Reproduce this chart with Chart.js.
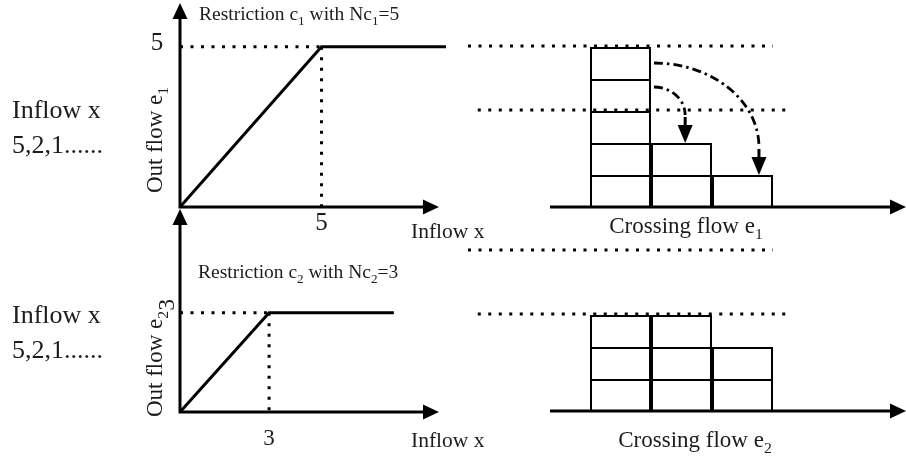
<!DOCTYPE html>
<html>
<head>
<meta charset="utf-8">
<title>Restriction and crossing flow</title>
<script src="https://cdn.jsdelivr.net/npm/chart.js@4.4.1/dist/chart.umd.min.js"></script>
<style>
  html, body { margin: 0; padding: 0; background: #fff; }
  #stage { position: relative; width: 906px; height: 459px; overflow: hidden; }
  #stage canvas { position: absolute; left: 0; top: 0; }
</style>
</head>
<body>
<div id="stage">
  <canvas id="resp1" width="906" height="459"></canvas>
  <canvas id="resp2" width="906" height="459"></canvas>
  <canvas id="cross1" width="906" height="459"></canvas>
  <canvas id="cross2" width="906" height="459"></canvas>
</div>
<script>
// values
const capacity = [5, 3];              // Nc1, Nc2
const inflowSequence = [5, 2, 1];     // arriving inflow x
const steps = ['t1', 't2', 't3'];
const responseX1 = [0, 5, 9.4];
const responseY1 = [0, 5, 5];
const responseX2 = [0, 3, 7.2];
const responseY2 = [0, 3, 3];
const crossing1 = [5, 2, 1];
const crossing2 = [3, 3, 2];
// boxes pushed on in e1: start [column edge, height] -> end [column position, top]
const moveFrom = [[0.5, 4.5], [0.5, 3.75]];
const moveTo = [[2.27, 1], [1.06, 2]];

const FONT = '"Liberation Serif", "Times New Roman", serif';
const INK = '#000';
const TEXT = '#1c1c1c';

// "a_1_b" -> text with subscripts between underscores
function label(ctx, str, x, y, size, align, angle) {
    const parts = str.split('_').map((t, i) => ({ t, sub: i % 2 === 1 }));
    ctx.save();
    ctx.translate(x, y);
    if (angle) ctx.rotate(angle);
    ctx.fillStyle = TEXT;
    ctx.textAlign = 'left';
    ctx.textBaseline = 'alphabetic';
    const widths = parts.map(p => {
        ctx.font = (p.sub ? size * 0.68 : size) + 'px ' + FONT;
        return ctx.measureText(p.t).width;
    });
    const total = widths.reduce((a, b) => a + b, 0);
    let cx = align === 'center' ? -total / 2 : 0;
    parts.forEach((p, i) => {
        ctx.font = (p.sub ? size * 0.68 : size) + 'px ' + FONT;
        ctx.fillText(p.t, cx, p.sub ? size * 0.24 : 0);
        cx += widths[i];
    });
    ctx.restore();
}

function arrowHead(ctx, x, y, dx, dy, len = 16, half = 7.5) {
    const bx = x - dx * len, by = y - dy * len;
    ctx.beginPath();
    ctx.moveTo(x, y);
    ctx.lineTo(bx - dy * half, by + dx * half);
    ctx.lineTo(bx + dy * half, by - dx * half);
    ctx.closePath();
    ctx.fill();
}

function responseDecor(cap, lay) {
    return {
        id: 'responseDecor',
        afterDatasetsDraw(chart) {
            const { ctx, scales: { x, y } } = chart;
            const ox = x.getPixelForValue(0), oy = y.getPixelForValue(0);
            const tx = x.getPixelForValue(lay.xTip), ty = y.getPixelForValue(lay.yTip);
            ctx.save();
            ctx.strokeStyle = INK;
            ctx.fillStyle = INK;
            ctx.lineWidth = 3;
            ctx.beginPath();
            ctx.moveTo(ox, oy + 1.5);
            ctx.lineTo(ox, ty + 12);
            ctx.moveTo(ox - 1.5, oy);
            ctx.lineTo(tx - 12, oy);
            ctx.stroke();
            arrowHead(ctx, ox, ty, 0, -1);
            arrowHead(ctx, tx, oy, 1, 0);
            ctx.restore();

            const cx = x.getPixelForValue(cap), cy = y.getPixelForValue(cap);
            label(ctx, lay.title, lay.titleX, lay.titleY, 19.5, 'left');
            label(ctx, String(cap), ox + lay.yTick[0], cy + lay.yTick[1], lay.yTickSize, 'center', lay.yTickAngle);
            label(ctx, String(cap), cx, oy + lay.xTickDy, lay.xTickSize, 'center');
            label(ctx, 'Inflow x', 411, oy + lay.xTitleDy, 21.5, 'left');
            label(ctx, lay.yTitle, ox - 18, lay.yTitleY, 23, 'center', -Math.PI / 2);
            label(ctx, 'Inflow x', 12, lay.sideY, 26, 'left');
            label(ctx, inflowSequence.join(',') + '......', 12, lay.sideY + 35, 26, 'left');
        }
    };
}

function responseChart(id, xs, ys, cap, pad, lay) {
    const pts = xs.map((v, i) => ({ x: v, y: ys[i] }));
    const dots = { borderColor: INK, borderWidth: 3, borderDash: [3, 7.5], pointRadius: 0, showLine: true };
    return new Chart(document.getElementById(id), {
        type: 'scatter',
        data: {
            datasets: [
                { data: pts, borderColor: INK, borderWidth: 3, pointRadius: 0, showLine: true },
                { data: [{ x: 0, y: cap }, { x: cap, y: cap }], ...dots },
                { data: [{ x: cap, y: cap }, { x: cap, y: 0 }], ...dots }
            ]
        },
        options: {
            responsive: false,
            animation: false,
            devicePixelRatio: 1,
            layout: { padding: pad },
            plugins: { legend: { display: false }, tooltip: { enabled: false } },
            scales: {
                x: { type: 'linear', min: 0, max: 10, display: false },
                y: { type: 'linear', min: 0, max: lay.yMax, display: false }
            }
        },
        plugins: [responseDecor(cap, lay)]
    });
}

function crossingDecor(lay, moves) {
    return {
        id: 'crossingDecor',
        afterDatasetsDraw(chart) {
            const { ctx, scales: { x, y } } = chart;
            const oy = y.getPixelForValue(0);
            ctx.save();
            ctx.strokeStyle = INK;
            ctx.fillStyle = INK;

            // capacity levels
            ctx.lineWidth = 3;
            ctx.setLineDash([3, 7.5]);
            capacity.forEach((c, i) => {
                const py = y.getPixelForValue(c) - 1;
                ctx.beginPath();
                ctx.moveTo(x.getPixelForValue(lay.levels[i][0]), py);
                ctx.lineTo(x.getPixelForValue(lay.levels[i][1]), py);
                ctx.stroke();
            });
            ctx.setLineDash([]);

            // base axis
            const ax0 = x.getPixelForValue(lay.axis[0]), ax1 = x.getPixelForValue(lay.axis[1]);
            ctx.lineWidth = 3;
            ctx.beginPath();
            ctx.moveTo(ax0, oy);
            ctx.lineTo(ax1 - 12, oy);
            ctx.stroke();
            arrowHead(ctx, ax1, oy, 1, 0);

            // moved boxes
            moves.forEach(([from, to]) => {
                const sx = x.getPixelForValue(from[0]) + 3, sy = y.getPixelForValue(from[1]);
                const tipX = x.getPixelForValue(to[0]), tipY = y.getPixelForValue(to[1]);
                const ey = tipY - 28;
                ctx.lineWidth = 2.8;
                ctx.setLineDash([9, 4, 2.5, 4]);
                ctx.beginPath();
                ctx.ellipse(sx, ey, tipX - sx, ey - sy, 0, -Math.PI / 2, 0);
                ctx.stroke();
                ctx.setLineDash([]);
                ctx.lineWidth = 3;
                ctx.beginPath();
                ctx.moveTo(tipX, tipY - 26);
                ctx.lineTo(tipX, tipY - 14);
                ctx.stroke();
                arrowHead(ctx, tipX, tipY, 0, 1, 18, 7.5);
            });
            ctx.restore();

            label(ctx, lay.title, lay.titleX, oy + lay.titleDy, 23, 'center');
        }
    };
}

function crossingChart(id, counts, pad, lay, moves) {
    const depth = Math.max(...counts);
    const datasets = [];
    for (let k = 0; k < depth; k++) {
        datasets.push({
            data: counts.map(c => (c > k ? 1 : null)),
            backgroundColor: '#fff',
            borderColor: INK,
            borderWidth: 2,
            borderSkipped: 'bottom',
            inflateAmount: 0,
            barPercentage: 1,
            categoryPercentage: 1
        });
    }
    return new Chart(document.getElementById(id), {
        type: 'bar',
        data: { labels: steps, datasets },
        options: {
            responsive: false,
            animation: false,
            devicePixelRatio: 1,
            layout: { padding: pad },
            plugins: { legend: { display: false }, tooltip: { enabled: false } },
            scales: {
                x: { stacked: true, display: false },
                y: { stacked: true, min: 0, max: 6, display: false }
            }
        },
        plugins: [crossingDecor(lay, moves)]
    });
}

responseChart('resp1', responseX1, responseY1, capacity[0],
    { left: 180, right: 443, top: 2, bottom: 252 },
    {
        yMax: 6.4, xTip: 9.15, yTip: 6.37,
        title: 'Restriction c_1_ with Nc_1_=' + capacity[0], titleX: 199, titleY: 20,
        yTick: [-23, 3.5], yTickSize: 25, yTickAngle: 0,
        xTickDy: 23, xTickSize: 25, xTitleDy: 31,
        yTitle: 'Out flow e_1', yTitleY: 140, sideY: 118
    });

responseChart('resp2', responseX2, responseY2, capacity[1],
    { left: 180, right: 429, top: 207, bottom: 47 },
    {
        yMax: 6.2, xTip: 8.72, yTip: 6.14,
        title: 'Restriction c_2_ with Nc_2_=' + capacity[1], titleX: 198, titleY: 278,
        yTick: [-6, -8], yTickSize: 23, yTickAngle: -Math.PI / 2,
        xTickDy: 33, xTickSize: 23, xTitleDy: 35,
        yTitle: 'Out flow e_2', yTitleY: 364, sideY: 323
    });

const crossLayout = { levels: [[-2.5, 2.5], [-2.34, 2.81]], axis: [-1.156, 4.68] };

crossingChart('cross1', crossing1,
    { left: 590, right: 133, top: 15, bottom: 252 },
    { ...crossLayout, title: 'Crossing flow e_1', titleX: 686, titleDy: 26 },
    moveFrom.map((f, i) => [f, moveTo[i]]));

crossingChart('cross2', crossing2,
    { left: 590, right: 133, top: 219, bottom: 48 },
    { ...crossLayout, title: 'Crossing flow e_2', titleX: 695, titleDy: 36 },
    []);
</script>
</body>
</html>
